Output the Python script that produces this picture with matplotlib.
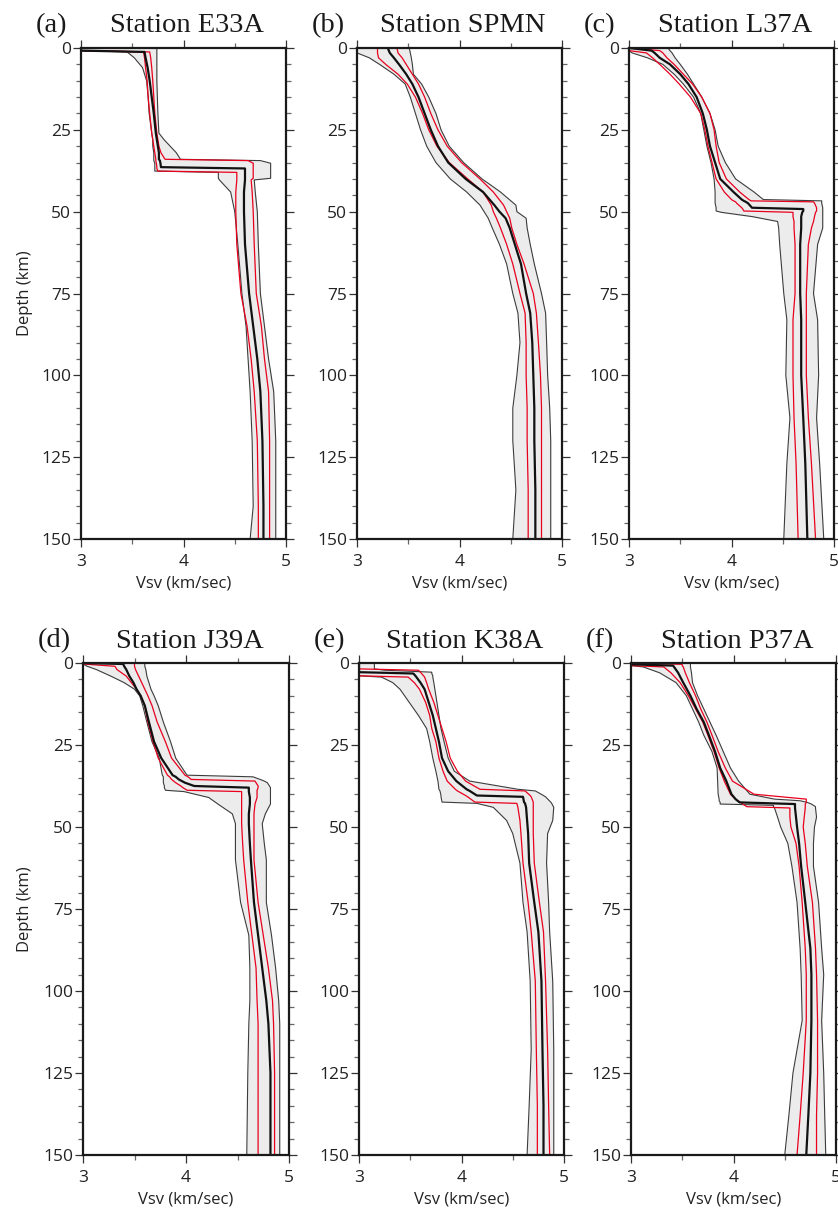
import matplotlib.pyplot as plt
from matplotlib.ticker import MultipleLocator

plt.rcParams['font.family'] = ['Open Sans', 'DejaVu Sans']

stations = ['E33A', 'SPMN', 'L37A', 'J39A', 'K38A', 'P37A']
tags = ['(a)', '(b)', '(c)', '(d)', '(e)', '(f)']

# depth (km) and Vsv (km/s): outer envelope, red inner bounds, median
E33A_depth = [0, 0.8, 1.2, 3, 6, 10, 15, 20, 26, 28, 30, 32, 34.0, 34.4, 35.2, 36.4, 36.8, 37.6, 38.0, 39.8,
              40.3, 44, 50, 60, 75, 85, 95, 105, 120, 140, 150]
E33A_lo = [3.0, 3.0, 3.45, 3.52, 3.60, 3.64, 3.655, 3.665, 3.69, 3.70, 3.70, 3.71, 3.71, 3.71, 3.72, 3.72,
           3.72, 3.72, 4.34, 4.34, 4.35, 4.46, 4.50, 4.53, 4.57, 4.61, 4.63, 4.65, 4.67, 4.68, 4.65]
E33A_red_lo = [3.0, 3.0, 3.61, 3.62, 3.63, 3.645, 3.655, 3.67, 3.69, 3.70, 3.71, 3.72, 3.73, 3.73, 3.735, 3.74,
               3.74, 3.75, 4.52, 4.52, 4.52, 4.51, 4.51, 4.52, 4.56, 4.62, 4.66, 4.69, 4.72, 4.73, 4.73]
E33A_med = [3.0, 3.0, 3.62, 3.63, 3.65, 3.67, 3.69, 3.71, 3.73, 3.74, 3.75, 3.76, 3.76, 3.77, 3.775, 3.78,
            4.60, 4.60, 4.60, 4.60, 4.60, 4.59, 4.59, 4.60, 4.64, 4.68, 4.72, 4.75, 4.77, 4.78, 4.78]
E33A_red_hi = [3.0, 3.0, 3.67, 3.68, 3.69, 3.70, 3.71, 3.72, 3.74, 3.75, 3.76, 3.78, 3.82, 4.63, 4.68, 4.68,
               4.68, 4.68, 4.68, 4.68, 4.66, 4.67, 4.68, 4.69, 4.71, 4.76, 4.79, 4.83, 4.84, 4.84, 4.84]
E33A_hi = [3.74, 3.74, 3.74, 3.74, 3.74, 3.74, 3.745, 3.75, 3.76, 3.81, 3.87, 3.93, 3.97, 4.75, 4.85, 4.85,
           4.85, 4.85, 4.85, 4.85, 4.69, 4.70, 4.72, 4.73, 4.75, 4.79, 4.83, 4.88, 4.90, 4.90, 4.90]

SPMN_depth = [0, 1.5, 3, 5, 8, 11, 15, 20, 25, 30, 35, 40, 44, 48, 50, 52, 55, 60, 66, 75, 81, 90, 100,
              110, 120, 135, 150]
SPMN_lo = [3.0, 3.0, 3.12, 3.22, 3.36, 3.47, 3.52, 3.57, 3.62, 3.68, 3.77, 3.91, 4.07, 4.20, 4.24, 4.28,
           4.32, 4.39, 4.46, 4.52, 4.57, 4.59, 4.56, 4.52, 4.52, 4.55, 4.52]
SPMN_red_lo = [3.20, 3.20, 3.21, 3.28, 3.40, 3.49, 3.57, 3.64, 3.70, 3.78, 3.90, 4.08, 4.23, 4.31, 4.33, 4.36,
               4.40, 4.46, 4.52, 4.59, 4.64, 4.65, 4.65, 4.66, 4.66, 4.67, 4.67]
SPMN_med = [3.30, 3.32, 3.36, 3.41, 3.48, 3.54, 3.60, 3.66, 3.72, 3.79, 3.89, 4.06, 4.23, 4.34, 4.39, 4.45,
            4.49, 4.54, 4.60, 4.65, 4.69, 4.71, 4.72, 4.73, 4.73, 4.74, 4.74]
SPMN_red_hi = [3.39, 3.40, 3.44, 3.48, 3.54, 3.60, 3.66, 3.72, 3.79, 3.88, 4.02, 4.20, 4.33, 4.43, 4.46, 4.49,
               4.51, 4.56, 4.63, 4.72, 4.75, 4.77, 4.79, 4.80, 4.80, 4.80, 4.80]
SPMN_hi = [3.51, 3.52, 3.53, 3.54, 3.55, 3.63, 3.70, 3.77, 3.82, 3.90, 4.04, 4.22, 4.40, 4.55, 4.56, 4.65,
           4.66, 4.69, 4.73, 4.80, 4.84, 4.85, 4.86, 4.88, 4.89, 4.89, 4.89]

L37A_depth = [0, 0.8, 1.5, 3, 5, 8, 11, 15, 20, 25, 30, 35, 40, 44, 46.3, 46.7, 47.0, 47.4, 48.8, 49.2,
              49.8, 50.2, 51.5, 53, 55, 60, 75, 83, 100, 113, 127, 150]
L37A_lo = [3.0, 3.0, 3.03, 3.18, 3.33, 3.44, 3.53, 3.63, 3.70, 3.73, 3.76, 3.80, 3.83, 3.84, 3.84, 3.84,
           3.84, 3.84, 3.85, 3.85, 3.85, 3.90, 4.20, 4.45, 4.46, 4.47, 4.51, 4.54, 4.53, 4.57, 4.54, 4.51]
L37A_red_lo = [3.0, 3.0, 3.17, 3.23, 3.30, 3.40, 3.49, 3.60, 3.70, 3.74, 3.77, 3.81, 3.85, 3.93, 4.00, 4.02,
               4.04, 4.05, 4.10, 4.11, 4.12, 4.60, 4.60, 4.61, 4.61, 4.62, 4.62, 4.60, 4.60, 4.61, 4.63, 4.65]
L37A_med = [3.0, 3.22, 3.25, 3.30, 3.40, 3.50, 3.58, 3.66, 3.72, 3.76, 3.79, 3.84, 3.89, 4.02, 4.10, 4.12,
            4.14, 4.16, 4.20, 4.70, 4.70, 4.69, 4.68, 4.68, 4.68, 4.67, 4.67, 4.68, 4.68, 4.70, 4.72, 4.74]
L37A_red_hi = [3.0, 3.30, 3.33, 3.37, 3.44, 3.53, 3.62, 3.71, 3.79, 3.83, 3.85, 3.88, 3.95, 4.08, 4.17, 4.19,
               4.80, 4.81, 4.83, 4.83, 4.83, 4.82, 4.81, 4.80, 4.78, 4.75, 4.73, 4.73, 4.73, 4.75, 4.78, 4.82]
L37A_hi = [3.38, 3.40, 3.42, 3.45, 3.50, 3.57, 3.63, 3.71, 3.79, 3.84, 3.87, 3.94, 4.04, 4.22, 4.31, 4.88,
           4.88, 4.88, 4.89, 4.89, 4.89, 4.89, 4.89, 4.89, 4.89, 4.84, 4.80, 4.84, 4.85, 4.83, 4.86, 4.90]

J39A_depth = [0, 0.3, 1, 2, 4, 6, 8, 10, 13, 18, 24, 29, 34.2, 34.7, 35.5, 36.0, 36.5, 37.5, 38.0, 38.8,
              39.2, 41, 43, 46, 49, 55, 60, 73, 83, 93, 103, 110, 125, 150]
J39A_lo = [3.0, 3.0, 3.04, 3.13, 3.27, 3.40, 3.50, 3.55, 3.58, 3.62, 3.67, 3.74, 3.77, 3.78, 3.78, 3.78,
           3.78, 3.79, 3.79, 3.80, 3.98, 4.22, 4.31, 4.45, 4.48, 4.48, 4.48, 4.53, 4.61, 4.62, 4.62, 4.61,
           4.60, 4.59]
J39A_red_lo = [3.0, 3.0, 3.31, 3.33, 3.42, 3.47, 3.52, 3.56, 3.60, 3.63, 3.68, 3.73, 3.82, 3.84, 3.86, 3.88,
               3.90, 3.95, 3.97, 4.01, 4.54, 4.54, 4.54, 4.54, 4.54, 4.55, 4.56, 4.60, 4.64, 4.68, 4.69, 4.70,
               4.70, 4.70]
J39A_med = [3.0, 3.39, 3.40, 3.42, 3.45, 3.49, 3.52, 3.56, 3.60, 3.64, 3.69, 3.76, 3.87, 3.90, 3.93, 3.96,
            3.99, 4.08, 4.61, 4.61, 4.61, 4.62, 4.62, 4.61, 4.61, 4.62, 4.63, 4.66, 4.70, 4.74, 4.78, 4.80,
            4.82, 4.82]
J39A_red_hi = [3.50, 3.50, 3.50, 3.51, 3.54, 3.57, 3.60, 3.63, 3.67, 3.72, 3.80, 3.86, 3.99, 4.02, 4.05, 4.67,
               4.68, 4.70, 4.70, 4.69, 4.69, 4.69, 4.67, 4.66, 4.66, 4.66, 4.66, 4.70, 4.75, 4.80, 4.84, 4.85,
               4.86, 4.86]
J39A_hi = [3.60, 3.60, 3.60, 3.61, 3.62, 3.64, 3.66, 3.69, 3.73, 3.78, 3.85, 3.90, 4.01, 4.65, 4.72, 4.76,
           4.79, 4.81, 4.82, 4.82, 4.82, 4.82, 4.82, 4.77, 4.74, 4.76, 4.78, 4.78, 4.83, 4.87, 4.90, 4.91,
           4.91, 4.91]

K38A_depth = [0, 1.8, 2.2, 2.8, 3.2, 3.9, 4.3, 6, 8, 12, 16, 20, 24, 29, 33, 36, 38.5, 39.0, 40.4, 40.8,
              42.4, 42.8, 44, 48, 52, 61, 73, 82, 97, 118, 135, 150]
K38A_lo = [3.0, 3.0, 3.0, 3.0, 3.0, 3.0, 3.22, 3.33, 3.40, 3.49, 3.58, 3.66, 3.69, 3.72, 3.75, 3.77,
           3.78, 3.79, 3.80, 3.80, 3.81, 4.15, 4.31, 4.44, 4.50, 4.57, 4.60, 4.64, 4.67, 4.68, 4.66, 4.64]
K38A_red_lo = [3.0, 3.0, 3.0, 3.0, 3.0, 3.0, 3.48, 3.54, 3.59, 3.65, 3.69, 3.71, 3.75, 3.78, 3.82, 3.86,
               3.94, 3.96, 4.04, 4.06, 4.13, 4.54, 4.55, 4.57, 4.58, 4.60, 4.65, 4.68, 4.72, 4.73, 4.74, 4.74]
K38A_med = [3.0, 3.0, 3.0, 3.0, 3.53, 3.55, 3.56, 3.60, 3.64, 3.68, 3.72, 3.75, 3.78, 3.81, 3.87, 3.95,
            4.05, 4.08, 4.15, 4.60, 4.61, 4.62, 4.63, 4.64, 4.65, 4.66, 4.71, 4.75, 4.78, 4.79, 4.80, 4.80]
K38A_red_hi = [3.0, 3.0, 3.58, 3.60, 3.61, 3.63, 3.64, 3.66, 3.68, 3.73, 3.77, 3.81, 3.85, 3.89, 3.96, 4.04,
               4.18, 4.62, 4.67, 4.68, 4.70, 4.70, 4.70, 4.70, 4.70, 4.71, 4.76, 4.80, 4.82, 4.84, 4.85, 4.86]
K38A_hi = [3.15, 3.15, 3.25, 3.71, 3.71, 3.72, 3.72, 3.73, 3.74, 3.76, 3.78, 3.80, 3.83, 3.87, 3.93, 4.08,
           4.55, 4.72, 4.80, 4.82, 4.87, 4.88, 4.90, 4.89, 4.84, 4.83, 4.85, 4.86, 4.89, 4.90, 4.90, 4.90]

P37A_depth = [0, 0.4, 0.8, 1.2, 3, 6, 10, 14, 18, 22, 27, 32, 36, 40, 41.5, 42.0, 42.5, 43.0, 43.4, 43.8,
              44.2, 47, 50, 55, 62, 73, 87, 95, 109, 125, 138, 150]
P37A_lo = [3.0, 3.0, 3.0, 3.12, 3.28, 3.44, 3.54, 3.60, 3.66, 3.71, 3.79, 3.84, 3.845, 3.85, 3.86, 3.86,
           3.87, 3.87, 4.39, 4.39, 4.40, 4.43, 4.46, 4.53, 4.57, 4.62, 4.65, 4.66, 4.67, 4.58, 4.54, 4.50]
P37A_red_lo = [3.0, 3.0, 3.0, 3.32, 3.39, 3.48, 3.56, 3.63, 3.70, 3.75, 3.81, 3.86, 3.91, 3.97, 4.02, 4.04,
               4.07, 4.09, 4.11, 4.13, 4.55, 4.55, 4.56, 4.61, 4.64, 4.67, 4.70, 4.71, 4.71, 4.68, 4.65, 4.62]
P37A_med = [3.0, 3.0, 3.41, 3.42, 3.46, 3.51, 3.58, 3.64, 3.71, 3.76, 3.82, 3.87, 3.93, 3.98, 4.02, 4.04,
            4.06, 4.60, 4.60, 4.60, 4.60, 4.61, 4.62, 4.64, 4.66, 4.70, 4.75, 4.76, 4.76, 4.75, 4.73, 4.71]
P37A_red_hi = [3.0, 3.50, 3.50, 3.51, 3.53, 3.57, 3.63, 3.68, 3.74, 3.79, 3.85, 3.92, 3.99, 4.20, 4.71, 4.71,
               4.71, 4.70, 4.70, 4.70, 4.70, 4.69, 4.68, 4.70, 4.72, 4.77, 4.80, 4.81, 4.82, 4.82, 4.81, 4.81]
P37A_hi = [3.58, 3.58, 3.58, 3.58, 3.59, 3.60, 3.65, 3.71, 3.77, 3.83, 3.90, 3.97, 4.05, 4.16, 4.40, 4.65,
           4.72, 4.76, 4.78, 4.80, 4.80, 4.81, 4.79, 4.78, 4.78, 4.83, 4.86, 4.88, 4.86, 4.88, 4.89, 4.90]

profiles = [
    (E33A_depth, E33A_lo, E33A_red_lo, E33A_med, E33A_red_hi, E33A_hi),
    (SPMN_depth, SPMN_lo, SPMN_red_lo, SPMN_med, SPMN_red_hi, SPMN_hi),
    (L37A_depth, L37A_lo, L37A_red_lo, L37A_med, L37A_red_hi, L37A_hi),
    (J39A_depth, J39A_lo, J39A_red_lo, J39A_med, J39A_red_hi, J39A_hi),
    (K38A_depth, K38A_lo, K38A_red_lo, K38A_med, K38A_red_hi, K38A_hi),
    (P37A_depth, P37A_lo, P37A_red_lo, P37A_med, P37A_red_hi, P37A_hi),
]

W, H = 838, 1213
# axes boxes in pixels: left, top, right, bottom
boxes = [(81, 48, 286, 539), (357, 48, 562, 539), (629, 48, 834, 539),
         (83, 663, 289, 1155), (359, 663, 564, 1155), (631, 663, 836, 1155)]

fig = plt.figure(figsize=(W / 100, H / 100), dpi=100)

for i, (st, tag, prof, box) in enumerate(zip(stations, tags, profiles, boxes)):
    l, t, r, b = box
    ax = fig.add_axes([l / W, 1 - b / H, (r - l) / W, (b - t) / H])
    d, lo, rlo, med, rhi, hi = prof

    ax.fill_betweenx(d, lo, hi, color='#ececec', lw=0, zorder=1)
    ax.plot(lo, d, color='#3c3c3c', lw=0.8, zorder=2)
    ax.plot(hi, d, color='#3c3c3c', lw=0.8, zorder=2)
    ax.plot(rlo, d, color='#e8001c', lw=0.9, zorder=3)
    ax.plot(rhi, d, color='#e8001c', lw=0.9, zorder=3)
    ax.plot(med, d, color='#111111', lw=1.6, zorder=4)

    ax.set_xlim(3, 5)
    ax.set_ylim(150, 0)
    ax.xaxis.set_major_locator(MultipleLocator(1))
    ax.xaxis.set_minor_locator(MultipleLocator(0.5))
    ax.yaxis.set_major_locator(MultipleLocator(25))
    ax.yaxis.set_minor_locator(MultipleLocator(5))
    ax.tick_params(which='both', direction='out', top=True, right=True, color='#333333', width=0.9)
    ax.tick_params(which='major', length=5.5)
    ax.tick_params(which='minor', length=3.5, color='#666666')
    ax.tick_params(axis='x', which='major', labelsize=12.5, pad=5, labelcolor='#222222')
    ax.tick_params(axis='y', which='major', labelsize=12.5, pad=1.5, labelcolor='#222222')
    for sp in ax.spines.values():
        sp.set_linewidth(1.6)
        sp.set_color('#1a1a1a')
        sp.set_zorder(6)

    ax.set_xlabel('Vsv (km/sec)', fontsize=12, color='#222222', labelpad=4)

    dy = 15.5 / (b - t)
    ax.text(-45 / (r - l), 1 + dy, tag, transform=ax.transAxes, ha='left', va='baseline',
            family='Liberation Serif', fontsize=20.5, color='#1a1a1a')
    ax.text(0.5 + 3.5 / (r - l), 1 + dy, 'Station ' + st, transform=ax.transAxes, ha='center',
            va='baseline', family='Liberation Serif', fontsize=20.5, color='#1a1a1a')

    if i % 3 == 0:
        fig.text(25 / W, 1 - (t + b) / 2 / H, 'Depth (km)', rotation=90, ha='center', va='center',
                 fontsize=12, color='#222222')

fig.savefig('out.png', dpi=100)
